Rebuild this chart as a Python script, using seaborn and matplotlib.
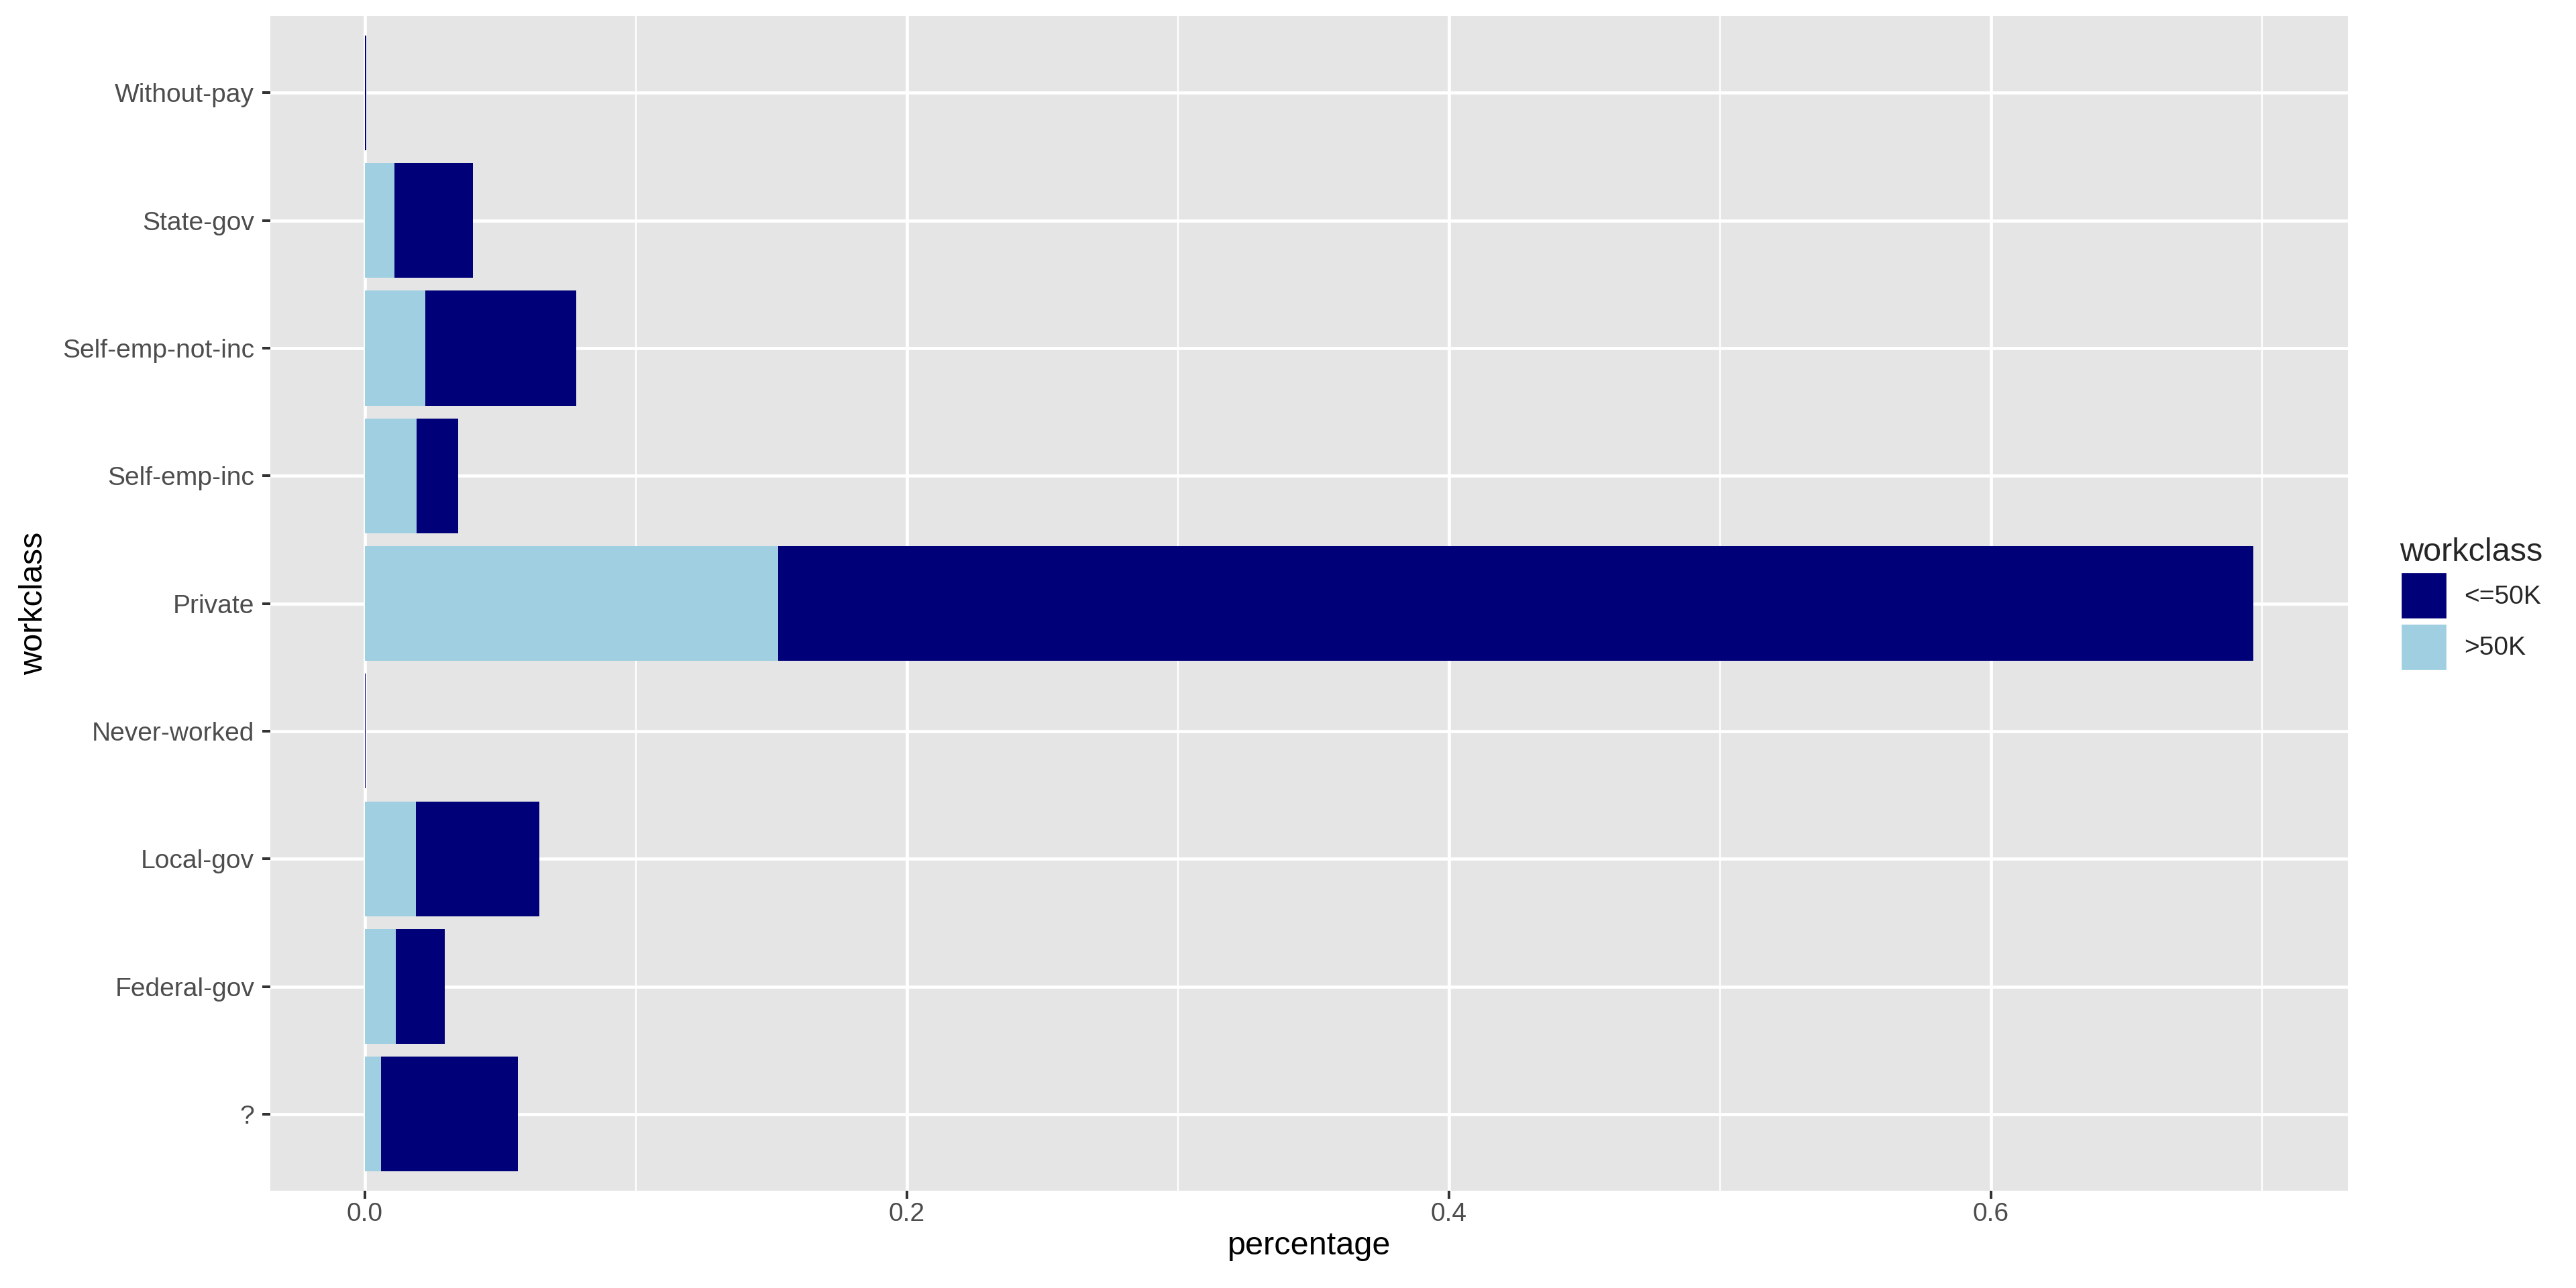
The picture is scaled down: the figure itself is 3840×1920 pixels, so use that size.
import matplotlib
matplotlib.use("Agg")
import matplotlib.pyplot as plt
import pandas as pd
import seaborn as sns
from matplotlib.patches import Patch
from matplotlib.ticker import MultipleLocator

# share of all rows per workclass, split by income
workclass = ["Without-pay", "State-gov", "Self-emp-not-inc", "Self-emp-inc", "Private",
             "Never-worked", "Local-gov", "Federal-gov", "?"]
pct_le50k = [0.00043, 0.0290, 0.0558, 0.0152, 0.5446, 0.00021, 0.0454, 0.0181, 0.0505]
pct_gt50k = [0.0, 0.0108, 0.0222, 0.0191, 0.1524, 0.0, 0.0189, 0.0114, 0.0059]
income_labels = ["<=50K", ">50K"]

navy = "#000078"
light = "#9FCFE0"

df = pd.DataFrame({"workclass": workclass, "le50k": pct_le50k, "gt50k": pct_gt50k})
df["total"] = df["le50k"] + df["gt50k"]

sns.set_theme(style="darkgrid")
plt.rcParams["font.family"] = ["Liberation Sans", "DejaVu Sans"]

fig, ax = plt.subplots(figsize=(16, 8), dpi=240)
fig.subplots_adjust(left=0.105, right=0.9115, top=0.9875, bottom=0.0755)
ax.set_facecolor("#E5E5E5")

# stacked: full bar in navy, >50K part drawn over it from zero
sns.barplot(data=df, x="total", y="workclass", order=workclass, orient="h", color=navy,
            saturation=1, width=0.9, errorbar=None, linewidth=0, ax=ax, zorder=3)
sns.barplot(data=df, x="gt50k", y="workclass", order=workclass, orient="h", color=light,
            saturation=1, width=0.9, errorbar=None, linewidth=0, ax=ax, zorder=3)

xmax = df["total"].max()
ax.set_xlim(-0.05 * xmax, xmax * 1.05)
ax.set_ylim(len(workclass) - 0.4, -0.6)

ax.xaxis.set_major_locator(MultipleLocator(0.2))
ax.xaxis.set_minor_locator(MultipleLocator(0.1))
ax.xaxis.set_major_formatter(matplotlib.ticker.FormatStrFormatter("%.1f"))
ax.grid(which="major", color="white", linewidth=1.4)
ax.grid(which="minor", axis="x", color="white", linewidth=0.7)
ax.set_axisbelow(True)
for s in ax.spines.values():
    s.set_visible(False)

ax.tick_params(axis="both", which="major", length=3.6, width=1.2, color="#333333",
               labelsize=11.7, labelcolor="#4D4D4D", bottom=True, left=True)
ax.tick_params(axis="x", which="major", pad=1.5)
ax.tick_params(axis="y", which="major", pad=3.6)
ax.tick_params(axis="x", which="minor", length=0)

ax.set_xlabel("percentage", fontsize=14.6, color="black", labelpad=2)
ax.set_ylabel("workclass", fontsize=14.6, color="black")
ax.yaxis.set_label_coords(-0.1065, 0.5)

handles = [Patch(facecolor=navy, edgecolor="white", linewidth=1, label=income_labels[0]),
           Patch(facecolor=light, edgecolor="white", linewidth=1, label=income_labels[1])]
leg = fig.legend(handles=handles, title="workclass", loc="center left",
                 bbox_to_anchor=(0.9225, 0.531), frameon=False, fontsize=11.7,
                 title_fontsize=14.6, handlelength=1.8, handleheight=2.42,
                 labelspacing=0.15, handletextpad=0.64, alignment="left")

fig.savefig("out.png", dpi=240)
